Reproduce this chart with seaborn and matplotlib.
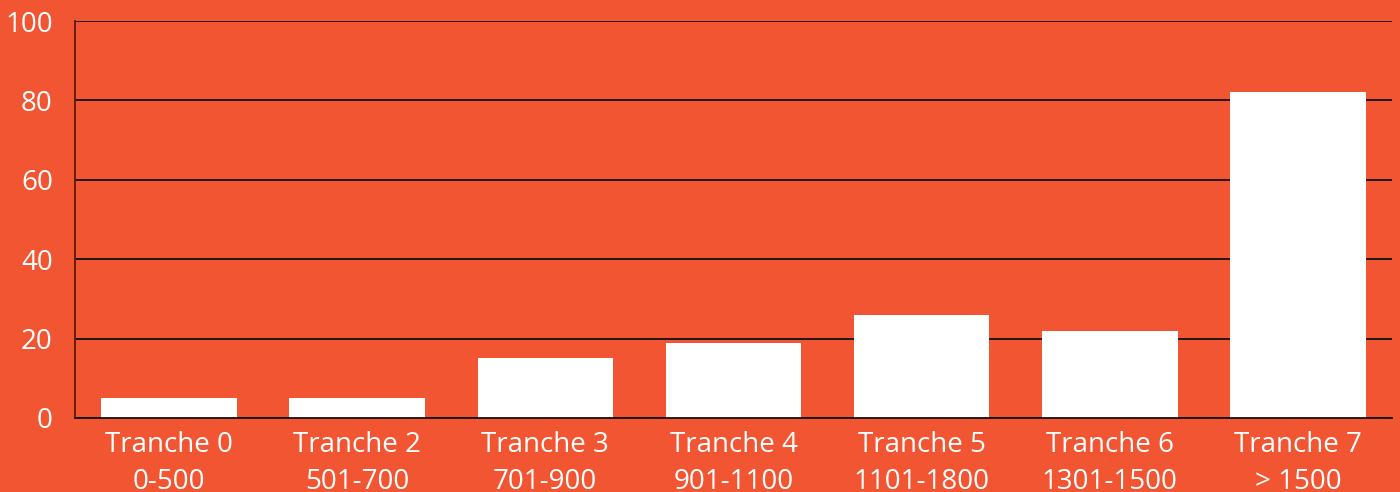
import numpy as np
import pandas as pd
import matplotlib
matplotlib.use("Agg")
import matplotlib.pyplot as plt
import seaborn as sns
from matplotlib.ticker import FixedLocator

# Données
tranches = ["Tranche 0\n0-500", "Tranche 2\n501-700", "Tranche 3\n701-900",
            "Tranche 4\n901-1100", "Tranche 5\n1101-1800", "Tranche 6\n1301-1500",
            "Tranche 7\n> 1500"]
valeurs = [5, 5, 15, 19, 26, 22, 82]
yticks = [0, 20, 40, 60, 80, 100]

fond = "#F25532"

sns.set_style("white")
plt.rcParams["font.family"] = ["Open Sans", "DejaVu Sans"]

df = pd.DataFrame({"tranche": tranches, "valeur": valeurs})

fig = plt.figure(figsize=(14, 4.92), dpi=100, facecolor=fond)
ax = fig.add_axes([75 / 1400, 74 / 492, (1392 - 75) / 1400, (418 - 21) / 492])
ax.set_facecolor(fond)

sns.barplot(data=df, x="tranche", y="valeur", color="white", width=0.72,
            saturation=1, edgecolor="none", zorder=3, ax=ax)

ax.set_xlim(-0.5, len(tranches) - 0.5)
ax.set_ylim(0, 100)
ax.set_yticks(yticks)
ax.yaxis.grid(True, color="#111111", linewidth=1.3, zorder=0)
ax.set_axisbelow(True)

# petites graduations entre les catégories
ax.xaxis.set_minor_locator(FixedLocator(np.arange(-0.5, len(tranches), 1.0)))
ax.tick_params(axis="x", which="major", length=0, pad=9, labelsize=20, colors="white",
               labelcolor="white")
ax.tick_params(axis="x", which="minor", length=7, width=1.2, direction="in", color="#111111")
ax.tick_params(axis="y", length=0, pad=16, labelsize=20, labelcolor="white")
for lbl in ax.get_xticklabels():
    lbl.set_linespacing(1.45)

for s in ["top", "right"]:
    ax.spines[s].set_visible(False)
ax.spines["left"].set_color("#5a1a0c")
ax.spines["left"].set_linewidth(1.3)
ax.spines["bottom"].set_color("#111111")
ax.spines["bottom"].set_linewidth(1.3)
ax.spines["bottom"].set_zorder(4)

ax.set_xlabel("")
ax.set_ylabel("")

fig.savefig("out.png", dpi=100, facecolor=fond)
